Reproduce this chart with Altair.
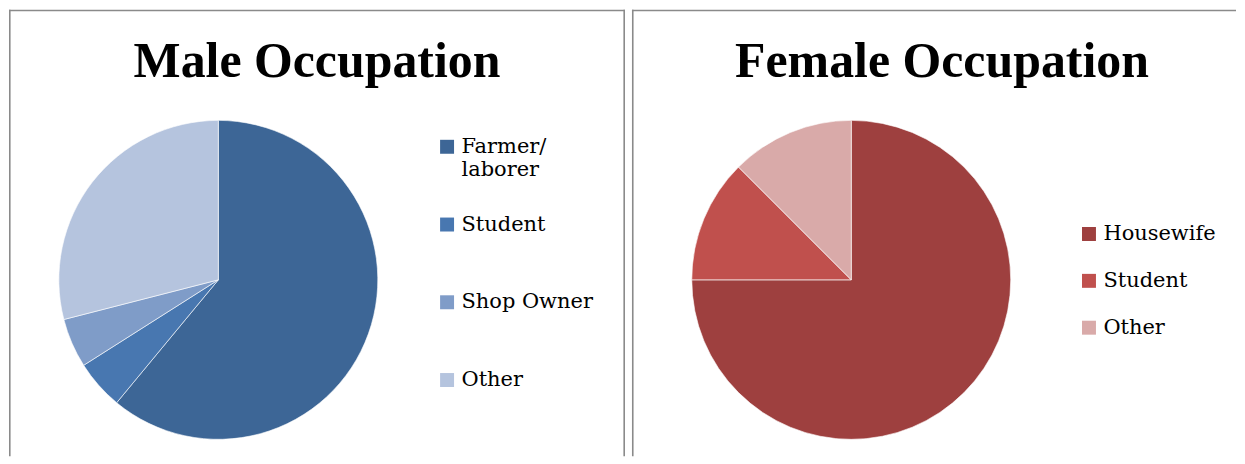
import altair as alt
import pandas as pd

# ---- data ----
male_titles = ["Male Occupation"]
male_categories = ["Farmer/laborer", "Student", "Shop Owner", "Other"]
male_values = [61, 5, 5, 29]
male_colors = ["#3D6696", "#4877B0", "#7F9CC8", "#B5C4DE"]

female_titles = ["Female Occupation"]
female_categories = ["Housewife", "Student", "Other"]
female_values = [75, 12.5, 12.5]
female_colors = ["#9E403F", "#C0504D", "#D9AAA9"]

TITLE_FONT = "Liberation Serif"
LABEL_FONT = "DejaVu Serif"
BORDER = "#8A8A8A"
H = 448


def frame_rules(width, right_edge):
    one = pd.DataFrame({"k": [0]})
    base = alt.Chart(one).mark_rule(color=BORDER, strokeWidth=1.6)
    rules = [
        base.encode(x=alt.value(0), x2=alt.value(width), y=alt.value(0.8)),
        base.encode(x=alt.value(0.8), y=alt.value(0), y2=alt.value(H)),
    ]
    if right_edge:
        rules.append(base.encode(x=alt.value(width - 0.8), y=alt.value(0), y2=alt.value(H)))
    return rules


def panel(title, cats, vals, colors, width, cx, cy, title_x, legend_x, legend_y,
          row_pad, label_expr, right_edge):
    df = pd.DataFrame({"occupation": cats, "value": vals, "idx": list(range(len(cats)))})
    pie = alt.Chart(df).mark_arc(radius=160, stroke="white", strokeWidth=0.6).encode(
        theta=alt.Theta("value:Q", stack=True),
        order=alt.Order("idx:Q"),
        color=alt.Color(
            "occupation:N",
            scale=alt.Scale(domain=cats, range=colors),
            sort=cats,
            legend=alt.Legend(
                title=None,
                orient="none",
                legendX=legend_x,
                legendY=legend_y,
                symbolType="square",
                symbolSize=196,
                symbolStrokeWidth=0,
                labelFont=LABEL_FONT,
                labelFontSize=21,
                labelColor="#000000",
                labelOffset=4,
                labelLimit=300,
                rowPadding=row_pad,
                padding=0,
                labelExpr=label_expr,
            ),
        ),
        x=alt.value(cx),
        y=alt.value(cy),
    )
    tdf = pd.DataFrame({"t": title})
    txt = alt.Chart(tdf).mark_text(
        font=TITLE_FONT, fontSize=50, fontWeight="bold", color="#000000",
        baseline="alphabetic", align="center",
    ).encode(text="t:N", x=alt.value(title_x), y=alt.value(67))
    return alt.layer(pie, txt, *frame_rules(width, right_edge)).properties(width=width, height=H)


male_expr = "datum.label == 'Farmer/laborer' ? ['Farmer/', 'laborer'] : [datum.label, ' ']"
female_expr = "datum.label"

left = panel(male_titles, male_categories, male_values, male_colors,
             618, 210, 271, 309, 429, 127, 33, male_expr, True)
right = panel(female_titles, female_categories, female_values, female_colors,
              606, 220, 271, 311, 448, 214.5, 25, female_expr, False)

chart = alt.hconcat(left, right, spacing=5).resolve_scale(color="independent").resolve_legend(
    color="independent"
).properties(padding=0).configure_view(stroke="transparent", strokeWidth=0)

chart.save("out.html", embed_options={"renderer": "svg", "actions": False})
